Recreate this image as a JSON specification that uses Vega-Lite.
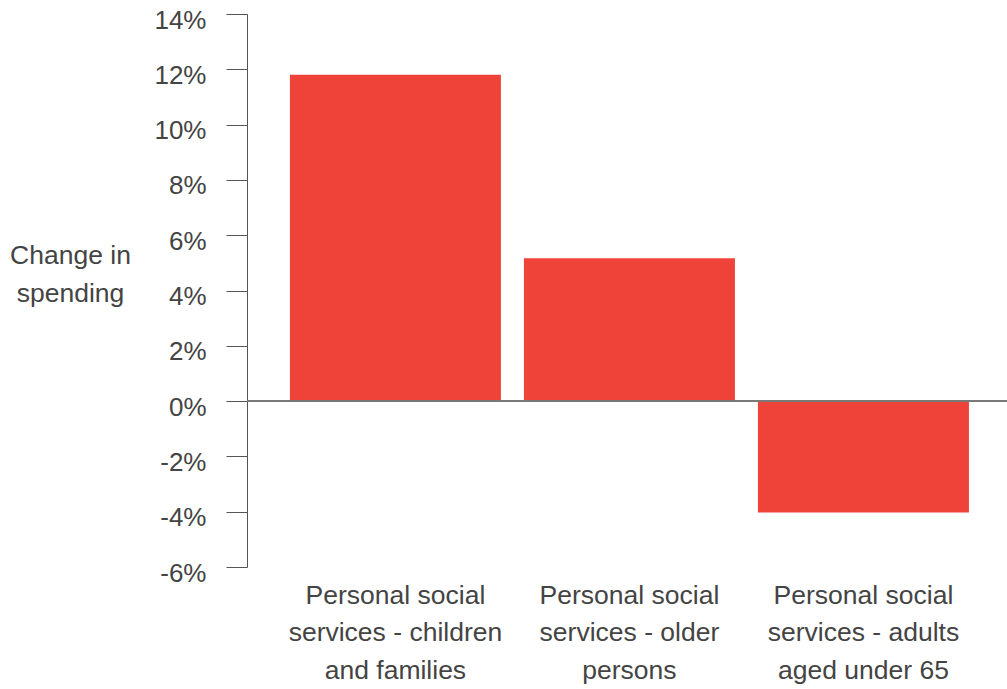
{
  "$schema": "https://vega.github.io/schema/vega-lite/v6.json",
  "width": 760,
  "height": 553,
  "autosize": {"type": "none"},
  "padding": {"left": 247, "top": 14, "right": 0, "bottom": 122},
  "background": "white",
  "config": {"view": {"stroke": null}, "font": "Liberation Sans"},
  "data": {
    "values": [
      {"category": "Personal social services - children and families", "change": 0.118},
      {"category": "Personal social services - older persons", "change": 0.0517},
      {"category": "Personal social services - adults aged under 65", "change": -0.0403}
    ]
  },
  "layer": [
    {
      "mark": {"type": "bar", "color": "#ef4238"},
      "encoding": {
        "x": {
          "field": "category",
          "type": "nominal",
          "sort": null,
          "scale": {"paddingInner": 0.0983, "paddingOuter": 0.173, "align": 0.53},
          "axis": {
            "title": null,
            "domain": false,
            "ticks": false,
            "labelAngle": 0,
            "labelFontSize": 26.5,
            "labelColor": "#444444",
            "labelPadding": 15,
            "labelLineHeight": 37.5,
            "labelBaseline": "top",
            "labelLimit": 0,
            "labelExpr": "datum.label == 'Personal social services - children and families' ? ['Personal social', 'services - children', 'and families'] : datum.label == 'Personal social services - older persons' ? ['Personal social', 'services - older', 'persons'] : ['Personal social', 'services - adults', 'aged under 65']"
          }
        },
        "y": {
          "field": "change",
          "type": "quantitative",
          "scale": {"domain": [-0.06, 0.14], "nice": false, "zero": false},
          "axis": {
            "values": [-0.06, -0.04, -0.02, 0, 0.02, 0.04, 0.06, 0.08, 0.1, 0.12, 0.14],
            "format": ".0%",
            "labelExpr": "replace(datum.label, '\u2212', '-')",
            "grid": false,
            "tickSize": 21,
            "tickColor": "#555555",
            "domainColor": "#555555",
            "labelFontSize": 26,
            "labelColor": "#444444",
            "labelPadding": 20,
            "labelOffset": 6,
            "title": ["Change in", "spending"],
            "titleAngle": 0,
            "titleAlign": "center",
            "titleBaseline": "middle",
            "titleFontSize": 26.5,
            "titleFontWeight": "normal",
            "titleColor": "#444444",
            "titleLineHeight": 38,
            "titleX": -177,
            "titleY": 241
          }
        }
      }
    },
    {
      "mark": {"type": "rule", "color": "#777777", "strokeWidth": 1.5},
      "encoding": {"y": {"datum": 0}}
    }
  ]
}
